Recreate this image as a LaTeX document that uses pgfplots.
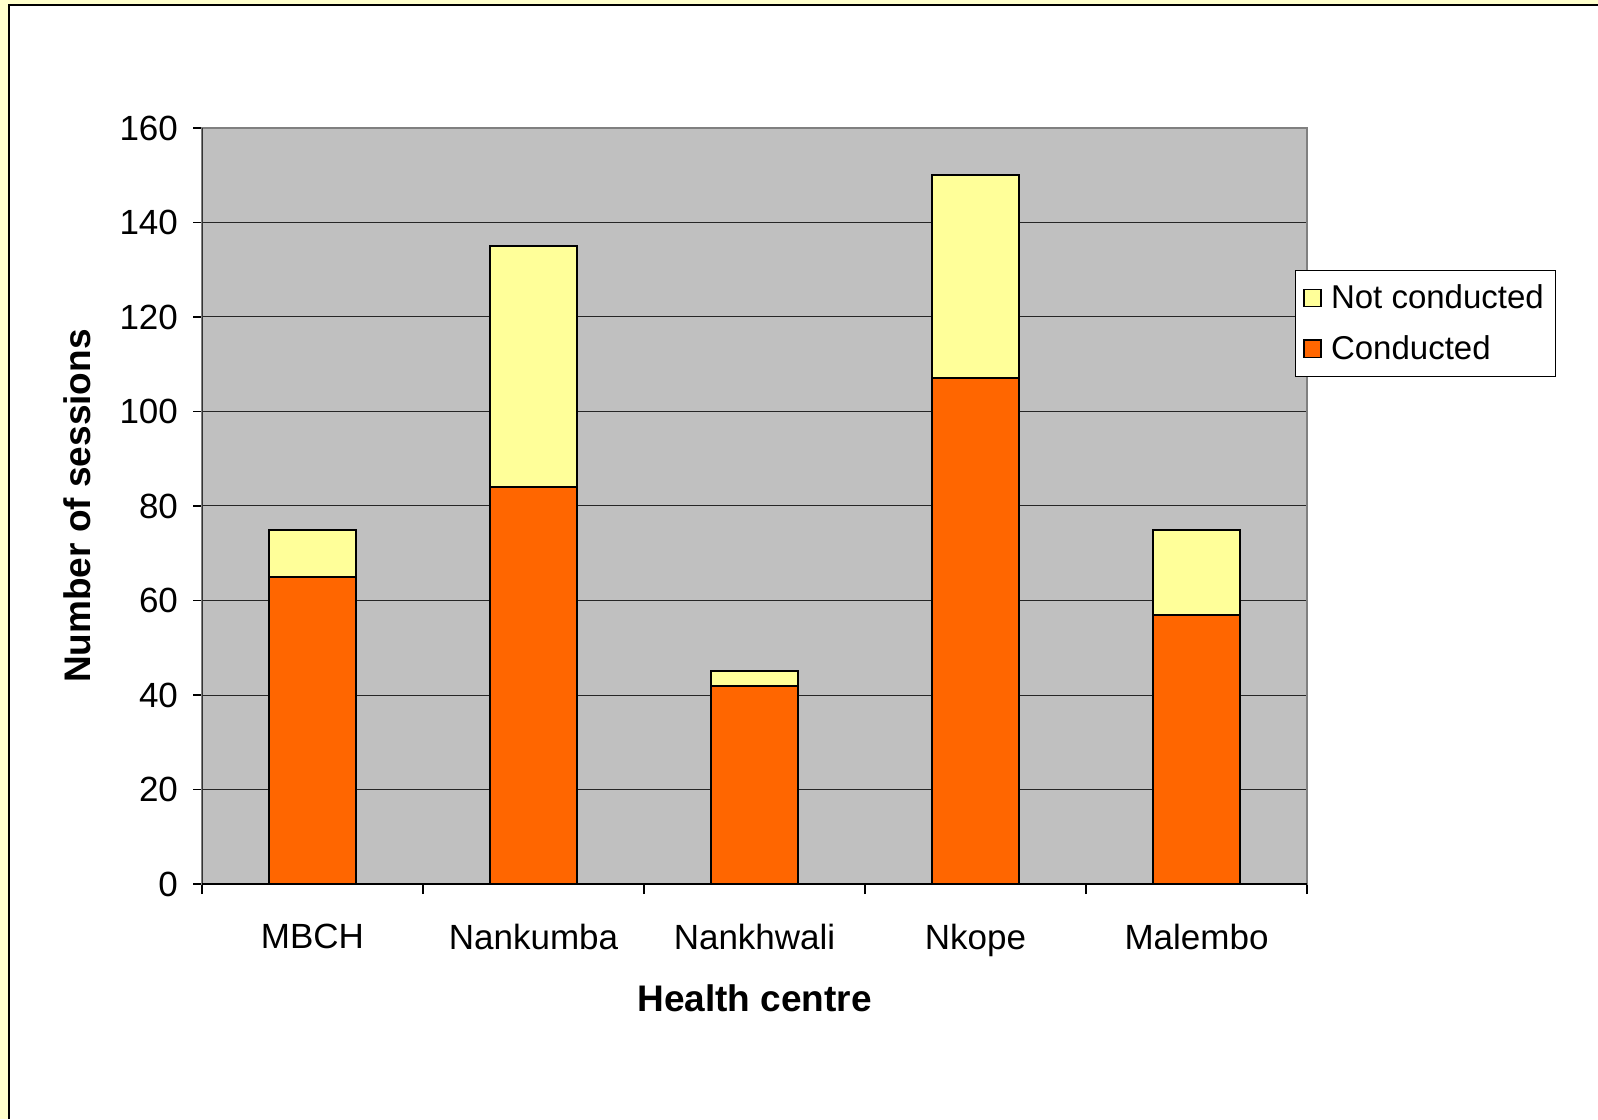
\documentclass[border=0pt]{standalone}
\usepackage{fontspec}
\setmainfont{Liberation Sans}
\usepackage{pgfplots}
\pgfplotsset{compat=1.18}
\definecolor{plotgray}{RGB}{192,192,192}
\definecolor{conducted}{RGB}{255,102,0}
\definecolor{notconducted}{RGB}{255,255,153}
\definecolor{pagebg}{RGB}{255,255,204}

\begin{document}
\begin{tikzpicture}[x=1pt,y=1pt]
\fill[pagebg] (0,0) rectangle (799,559.5);
\fill[white] (4.5,0) rectangle (799,557);
\draw[black, line width=0.8pt] (4.5,0) -- (4.5,557) -- (799,557);
\begin{axis}[
  at={(101pt,117.5pt)}, anchor=south west,
  scale only axis, width=552.5pt, height=378pt,
  ybar stacked, bar width=43.5pt,
  xmin=-0.5, xmax=4.5, ymin=0, ymax=160,
  ytick={0,20,...,160},
  xtick={0,...,4},
  xticklabels={MBCH,Nankumba,Nankhwali,Nkope,Malembo},
  minor xtick={-0.5,0.5,...,4.5},
  major x tick style={draw=none},
  minor x tick style={draw=black, line width=0.6pt},
  minor tick length=5pt,
  major tick length=4.5pt,
  tick align=outside,
  ytick pos=left, xtick pos=bottom,
  y tick style={draw=black, line width=0.6pt},
  axis background/.style={fill=plotgray},
  axis line style={draw=gray, line width=0.8pt},
  ymajorgrids,
  grid style={black!85, line width=0.5pt},
  /pgf/number format/assume math mode=true,
  tick label style={font=\fontsize{17.5}{20}\selectfont},
  xticklabel style={yshift=-12pt},
  yticklabel style={xshift=-4pt},
  xlabel={Health centre},
  ylabel={Number of sessions},
  xlabel style={font=\fontsize{18.5}{20}\selectfont\bfseries, at={(axis description cs:0.5,-0.151)}, anchor=center},
  ylabel style={font=\fontsize{18.5}{20}\selectfont\bfseries, at={(axis description cs:-0.113,0.5)}, anchor=center},
  reverse legend,
  legend style={at={(0.989,0.812)}, anchor=north west, draw=black, fill=white,
    font=\fontsize{16.5}{19}\selectfont, row sep=8pt, inner xsep=4pt, inner ysep=5pt},
  legend cell align=left,
  legend image code/.code={\draw[#1, line width=0.8pt] (0pt,-4.3pt) rectangle (8.6pt,4.3pt); \path (11pt,0pt);},
]
\addplot[fill=conducted, draw=black, line width=1pt] coordinates {(0,65) (1,84) (2,42) (3,107) (4,57)};
\addlegendentry{Conducted}
\addplot[fill=notconducted, draw=black, line width=1pt] coordinates {(0,10) (1,51) (2,3) (3,43) (4,18)};
\addlegendentry{Not conducted}
\draw[black, line width=0.8pt] (axis cs:-0.5,0) -- (axis cs:4.5,0);
\draw[black!80, line width=0.8pt] (axis cs:-0.5,0) -- (axis cs:-0.5,160);
\end{axis}
\pgfresetboundingbox
\useasboundingbox (0,0) rectangle (799,559.5);
\end{tikzpicture}
\end{document}
